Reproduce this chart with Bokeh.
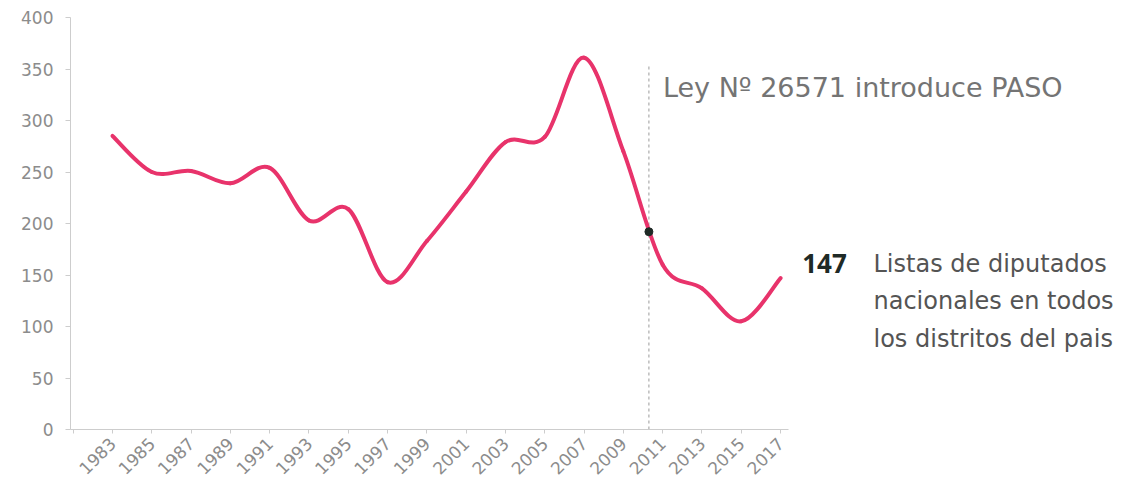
from math import pi
from bokeh.plotting import figure
from bokeh.models import Range1d, FixedTicker, Label
from bokeh.embed import file_html
from bokeh.resources import INLINE

# ---- data ----
years = [1983, 1985, 1987, 1989, 1991, 1993, 1995, 1997, 1999,
         2001, 2003, 2005, 2007, 2009, 2011, 2013, 2015, 2017]
listas = [285, 250, 251, 239, 254, 203, 214, 143, 183,
          231, 279, 284, 361, 270, 160, 137, 105, 147]
x_tick_years = list(range(1981, 2018, 2))
y_tick_values = [0, 50, 100, 150, 200, 250, 300, 350, 400]
paso_year = 2010.3      # where the PASO marker sits on the time axis
paso_value = 192        # value of the series at the PASO marker
last_value_label = "147"
note_lines = ["Listas de diputados", "nacionales en todos", "los distritos del pais"]
paso_note = "Ley Nº 26571 introduce PASO"

# ---- Catmull-Rom -> cubic Bezier control points (smooth line through data) ----
n = len(years)
x0, y0, x1, y1, cx0, cy0, cx1, cy1 = [], [], [], [], [], [], [], []
for i in range(n - 1):
    pm = max(i - 1, 0)
    pp = min(i + 2, n - 1)
    x0.append(years[i]); y0.append(listas[i])
    x1.append(years[i + 1]); y1.append(listas[i + 1])
    cx0.append(years[i] + (years[i + 1] - years[pm]) / 6)
    cy0.append(listas[i] + (listas[i + 1] - listas[pm]) / 6)
    cx1.append(years[i + 1] - (years[pp] - years[i]) / 6)
    cy1.append(listas[i + 1] - (listas[pp] - listas[i]) / 6)

FONT = "DejaVu Sans"
AXIS_COL = "#cdcdcd"
LABEL_COL = "#8c8c8c"

p = figure(width=1130, height=485, output_backend="svg", toolbar_location=None,
           x_range=Range1d(1980.862, 2034.81), y_range=Range1d(0, 400),
           min_border_left=70, min_border_right=0, min_border_top=17, min_border_bottom=56)
p.outline_line_color = None
p.xgrid.visible = False
p.ygrid.visible = False
p.background_fill_color = "white"
p.border_fill_color = "white"

# axes
p.xaxis.ticker = FixedTicker(ticks=x_tick_years)
p.xaxis.major_label_overrides = {1981: ""}
p.xaxis.bounds = (1980.862, 2017.4)
p.xaxis.major_label_orientation = pi / 4
p.xaxis.axis_line_color = AXIS_COL
p.xaxis.major_tick_line_color = AXIS_COL
p.xaxis.major_tick_out = 4
p.xaxis.major_tick_in = 0
p.xaxis.minor_tick_line_color = None
p.xaxis.major_label_text_color = LABEL_COL
p.xaxis.major_label_text_font = FONT
p.xaxis.major_label_text_font_size = "17px"
p.xaxis.major_label_standoff = 7

p.yaxis.ticker = FixedTicker(ticks=y_tick_values)
p.yaxis.bounds = (0, 400)
p.yaxis.axis_line_color = AXIS_COL
p.yaxis.major_tick_line_color = AXIS_COL
p.yaxis.major_tick_out = 5
p.yaxis.major_tick_in = 0
p.yaxis.minor_tick_line_color = None
p.yaxis.major_label_text_color = LABEL_COL
p.yaxis.major_label_text_font = FONT
p.yaxis.major_label_text_font_size = "17px"
p.yaxis.major_label_standoff = 12

# PASO dashed marker
p.segment(x0=[paso_year], y0=[0], x1=[paso_year], y1=[353],
          line_color="#9a9a9a", line_width=1, line_dash="3 3")

# smooth series line
p.bezier(x0=x0, y0=y0, x1=x1, y1=y1, cx0=cx0, cy0=cy0, cx1=cx1, cy1=cy1,
         line_color="#e8336b", line_width=4, line_cap="round")

p.scatter(x=[paso_year], y=[paso_value], size=8, marker="circle",
          fill_color="#1f2a26", line_color="#1f2a26")

# annotations
p.add_layout(Label(x=paso_year, y=332, x_offset=14, text=paso_note,
                   text_font=FONT, text_font_size="27px", text_color="#747474",
                   text_baseline="alphabetic"))
p.add_layout(Label(x=2018.1, y=161, text=last_value_label,
                   text_font="Open Sans", text_font_size="26px", text_font_style="bold",
                   text_color="#1f2a26", text_baseline="alphabetic"))
for line, yv in zip(note_lines, [161, 125, 88]):
    p.add_layout(Label(x=2021.73, y=yv, text=line,
                       text_font=FONT, text_font_size="24px", text_color="#545454",
                       text_baseline="alphabetic"))

open("out.html", "w").write(file_html(p, INLINE))
